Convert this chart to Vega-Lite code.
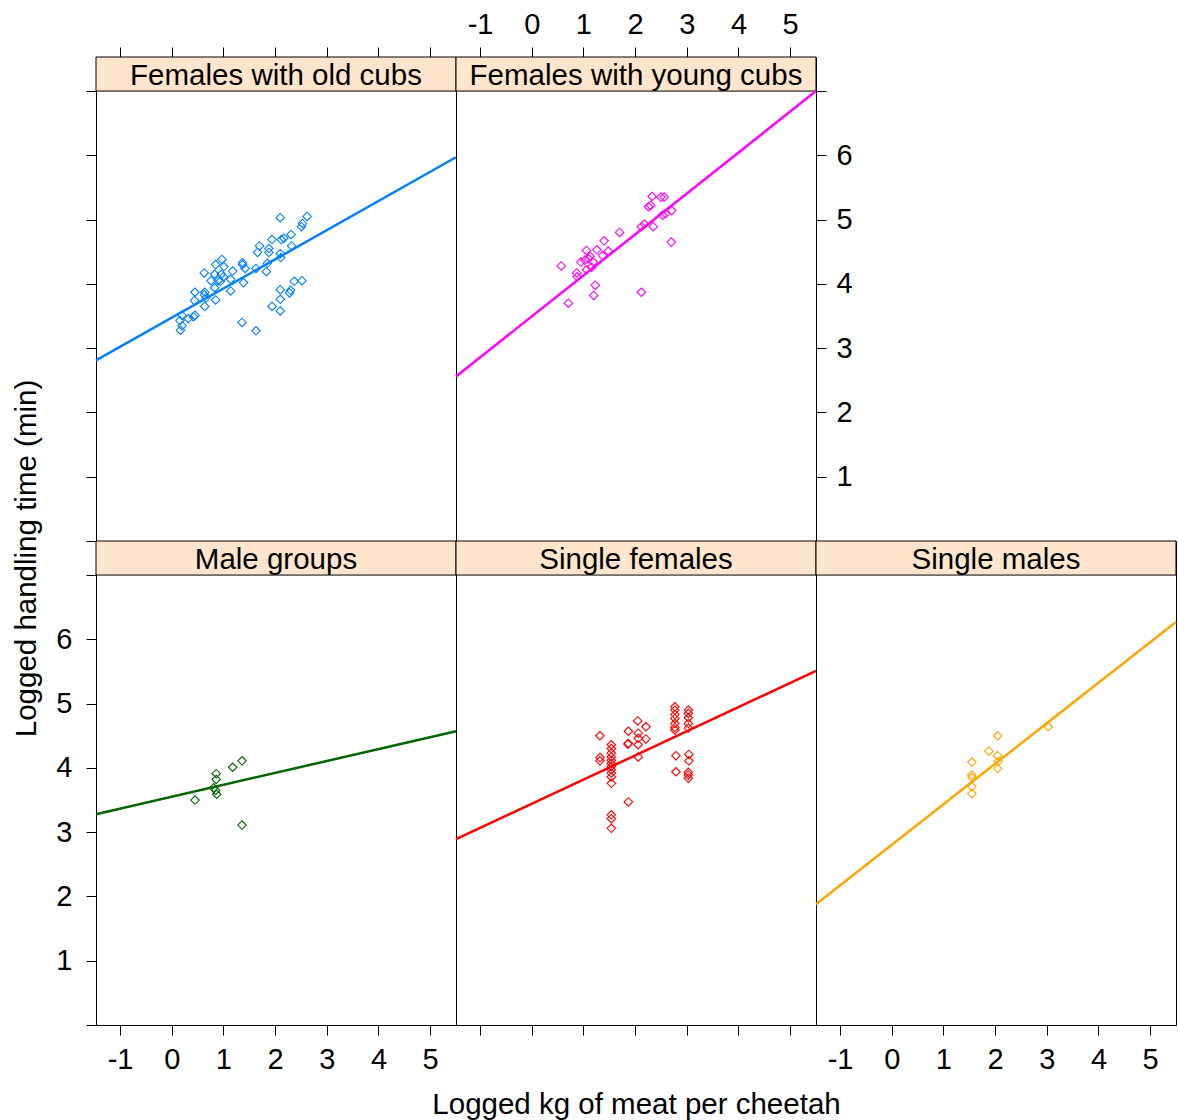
{
  "$schema": "https://vega.github.io/schema/vega-lite/v6.json",
  "background": "white",
  "padding": {"left": 11, "top": 9, "right": 0, "bottom": 0},
  "columns": 3,
  "spacing": 0,
  "bounds": "flush",
  "config": {
    "view": {"stroke": "black", "strokeWidth": 1},
    "axis": {"domain": false, "grid": false, "ticks": true, "tickSize": 10, "tickColor": "black", "tickWidth": 1,
      "labelFont": "Liberation Sans", "labelFontSize": 29, "labelColor": "black", "labelPadding": 10,
      "labelFlush": false, "labelOverlap": false,
      "titleFont": "Liberation Sans", "titleFontSize": 29.5, "titleFontWeight": "normal", "titleColor": "black"},
    "text": {"font": "Liberation Sans", "fontSize": 29.5, "color": "black", "dy": 2}
  },
  "datasets": {
    "strips": [
      {"group": "Females with old cubs"}, {"group": "Females with young cubs"}, {"group": "Male groups"},
      {"group": "Single females"}, {"group": "Single males"}
    ],
    "points": [
      {"group": "Females with old cubs", "x": 2.10, "y": 5.03}, {"group": "Females with old cubs", "x": 2.62, "y": 5.05},
      {"group": "Females with old cubs", "x": 2.53, "y": 4.94}, {"group": "Females with old cubs", "x": 2.51, "y": 4.89},
      {"group": "Females with old cubs", "x": 2.31, "y": 4.77}, {"group": "Females with old cubs", "x": 2.12, "y": 4.69},
      {"group": "Females with old cubs", "x": 2.17, "y": 4.71}, {"group": "Females with old cubs", "x": 1.94, "y": 4.69},
      {"group": "Females with old cubs", "x": 2.32, "y": 4.59}, {"group": "Females with old cubs", "x": 1.70, "y": 4.59},
      {"group": "Females with old cubs", "x": 1.66, "y": 4.49}, {"group": "Females with old cubs", "x": 1.88, "y": 4.55},
      {"group": "Females with old cubs", "x": 1.88, "y": 4.49}, {"group": "Females with old cubs", "x": 2.10, "y": 4.47},
      {"group": "Females with old cubs", "x": 2.11, "y": 4.41}, {"group": "Females with old cubs", "x": 1.85, "y": 4.32},
      {"group": "Females with old cubs", "x": 1.63, "y": 4.24}, {"group": "Females with old cubs", "x": 1.83, "y": 4.19},
      {"group": "Females with old cubs", "x": 1.37, "y": 4.33}, {"group": "Females with old cubs", "x": 1.37, "y": 4.30},
      {"group": "Females with old cubs", "x": 1.42, "y": 4.24}, {"group": "Females with old cubs", "x": 0.97, "y": 4.38},
      {"group": "Females with old cubs", "x": 0.85, "y": 4.30}, {"group": "Females with old cubs", "x": 1.01, "y": 4.27},
      {"group": "Females with old cubs", "x": 0.63, "y": 4.17}, {"group": "Females with old cubs", "x": 0.83, "y": 4.15},
      {"group": "Females with old cubs", "x": 0.96, "y": 4.15}, {"group": "Females with old cubs", "x": 1.00, "y": 4.11},
      {"group": "Females with old cubs", "x": 1.18, "y": 4.20}, {"group": "Females with old cubs", "x": 1.14, "y": 4.07},
      {"group": "Females with old cubs", "x": 0.76, "y": 4.05}, {"group": "Females with old cubs", "x": 0.90, "y": 4.05},
      {"group": "Females with old cubs", "x": 0.94, "y": 4.04}, {"group": "Females with old cubs", "x": 1.39, "y": 4.02},
      {"group": "Females with old cubs", "x": 1.14, "y": 3.89}, {"group": "Females with old cubs", "x": 0.45, "y": 3.87},
      {"group": "Females with old cubs", "x": 0.64, "y": 3.87}, {"group": "Females with old cubs", "x": 0.63, "y": 3.83},
      {"group": "Females with old cubs", "x": 0.66, "y": 3.78}, {"group": "Females with old cubs", "x": 0.83, "y": 3.94},
      {"group": "Females with old cubs", "x": 0.44, "y": 3.74}, {"group": "Females with old cubs", "x": 0.85, "y": 3.75},
      {"group": "Females with old cubs", "x": 0.64, "y": 3.65}, {"group": "Females with old cubs", "x": 0.45, "y": 3.51},
      {"group": "Females with old cubs", "x": 0.42, "y": 3.49}, {"group": "Females with old cubs", "x": 0.20, "y": 3.51},
      {"group": "Females with old cubs", "x": 0.16, "y": 3.43}, {"group": "Females with old cubs", "x": 0.20, "y": 3.35},
      {"group": "Females with old cubs", "x": 0.17, "y": 3.28}, {"group": "Females with old cubs", "x": 0.32, "y": 3.46},
      {"group": "Females with old cubs", "x": 2.37, "y": 4.04}, {"group": "Females with old cubs", "x": 2.52, "y": 4.05},
      {"group": "Females with old cubs", "x": 2.10, "y": 3.91}, {"group": "Females with old cubs", "x": 2.30, "y": 3.90},
      {"group": "Females with old cubs", "x": 2.28, "y": 3.86}, {"group": "Females with old cubs", "x": 2.10, "y": 3.76},
      {"group": "Females with old cubs", "x": 1.94, "y": 3.65}, {"group": "Females with old cubs", "x": 2.10, "y": 3.58},
      {"group": "Females with old cubs", "x": 1.36, "y": 3.40}, {"group": "Females with old cubs", "x": 1.63, "y": 3.27},

      {"group": "Females with young cubs", "x": 2.33, "y": 5.36}, {"group": "Females with young cubs", "x": 2.50, "y": 5.35},
      {"group": "Females with young cubs", "x": 2.56, "y": 5.35}, {"group": "Females with young cubs", "x": 2.30, "y": 5.22},
      {"group": "Females with young cubs", "x": 2.26, "y": 5.20}, {"group": "Females with young cubs", "x": 2.53, "y": 5.07},
      {"group": "Females with young cubs", "x": 2.59, "y": 5.09}, {"group": "Females with young cubs", "x": 2.71, "y": 5.14},
      {"group": "Females with young cubs", "x": 2.18, "y": 4.93}, {"group": "Females with young cubs", "x": 2.12, "y": 4.89},
      {"group": "Females with young cubs", "x": 2.35, "y": 4.89}, {"group": "Females with young cubs", "x": 2.70, "y": 4.65},
      {"group": "Females with young cubs", "x": 1.70, "y": 4.80}, {"group": "Females with young cubs", "x": 1.40, "y": 4.67},
      {"group": "Females with young cubs", "x": 1.06, "y": 4.52}, {"group": "Females with young cubs", "x": 1.26, "y": 4.53},
      {"group": "Females with young cubs", "x": 1.48, "y": 4.51}, {"group": "Females with young cubs", "x": 1.13, "y": 4.43},
      {"group": "Females with young cubs", "x": 1.10, "y": 4.39}, {"group": "Females with young cubs", "x": 0.95, "y": 4.34},
      {"group": "Females with young cubs", "x": 1.03, "y": 4.37}, {"group": "Females with young cubs", "x": 1.37, "y": 4.44},
      {"group": "Females with young cubs", "x": 1.19, "y": 4.34}, {"group": "Females with young cubs", "x": 0.57, "y": 4.28},
      {"group": "Females with young cubs", "x": 1.16, "y": 4.26}, {"group": "Females with young cubs", "x": 1.06, "y": 4.22},
      {"group": "Females with young cubs", "x": 0.87, "y": 4.17}, {"group": "Females with young cubs", "x": 0.88, "y": 4.11},
      {"group": "Females with young cubs", "x": 1.23, "y": 3.98}, {"group": "Females with young cubs", "x": 1.20, "y": 3.82},
      {"group": "Females with young cubs", "x": 2.12, "y": 3.87}, {"group": "Females with young cubs", "x": 0.71, "y": 3.70},

      {"group": "Male groups", "x": 1.36, "y": 4.11}, {"group": "Male groups", "x": 1.18, "y": 4.01},
      {"group": "Male groups", "x": 0.86, "y": 3.91}, {"group": "Male groups", "x": 0.86, "y": 3.82},
      {"group": "Male groups", "x": 0.81, "y": 3.69}, {"group": "Male groups", "x": 0.85, "y": 3.65},
      {"group": "Male groups", "x": 0.87, "y": 3.59}, {"group": "Male groups", "x": 0.45, "y": 3.50},
      {"group": "Male groups", "x": 1.36, "y": 3.11},

      {"group": "Single females", "x": 2.77, "y": 4.95}, {"group": "Single females", "x": 2.77, "y": 4.90},
      {"group": "Single females", "x": 2.77, "y": 4.83}, {"group": "Single females", "x": 2.77, "y": 4.77},
      {"group": "Single females", "x": 2.77, "y": 4.69}, {"group": "Single females", "x": 2.77, "y": 4.63},
      {"group": "Single females", "x": 2.77, "y": 4.59}, {"group": "Single females", "x": 3.03, "y": 4.90},
      {"group": "Single females", "x": 3.03, "y": 4.85}, {"group": "Single females", "x": 3.03, "y": 4.78},
      {"group": "Single females", "x": 3.03, "y": 4.69}, {"group": "Single females", "x": 3.03, "y": 4.62},
      {"group": "Single females", "x": 2.79, "y": 4.19}, {"group": "Single females", "x": 2.79, "y": 3.94},
      {"group": "Single females", "x": 3.04, "y": 4.21}, {"group": "Single females", "x": 3.04, "y": 4.11},
      {"group": "Single females", "x": 3.03, "y": 3.93}, {"group": "Single females", "x": 3.03, "y": 3.89},
      {"group": "Single females", "x": 3.03, "y": 3.84},
      {"group": "Single females", "x": 1.54, "y": 4.36}, {"group": "Single females", "x": 1.54, "y": 4.30},
      {"group": "Single females", "x": 1.54, "y": 4.23}, {"group": "Single females", "x": 1.54, "y": 4.17},
      {"group": "Single females", "x": 1.54, "y": 4.12}, {"group": "Single females", "x": 1.54, "y": 4.07},
      {"group": "Single females", "x": 1.54, "y": 4.02}, {"group": "Single females", "x": 1.54, "y": 3.97},
      {"group": "Single females", "x": 1.54, "y": 3.92}, {"group": "Single females", "x": 1.54, "y": 3.86},
      {"group": "Single females", "x": 1.54, "y": 3.76}, {"group": "Single females", "x": 1.54, "y": 3.27},
      {"group": "Single females", "x": 1.54, "y": 3.21}, {"group": "Single females", "x": 1.54, "y": 3.06},
      {"group": "Single females", "x": 1.32, "y": 4.50}, {"group": "Single females", "x": 1.32, "y": 4.16},
      {"group": "Single females", "x": 1.32, "y": 4.11}, {"group": "Single females", "x": 1.87, "y": 4.57},
      {"group": "Single females", "x": 1.87, "y": 4.38}, {"group": "Single females", "x": 1.86, "y": 4.37},
      {"group": "Single females", "x": 2.05, "y": 4.73}, {"group": "Single females", "x": 2.21, "y": 4.64},
      {"group": "Single females", "x": 2.06, "y": 4.54}, {"group": "Single females", "x": 2.06, "y": 4.46},
      {"group": "Single females", "x": 2.06, "y": 4.36}, {"group": "Single females", "x": 2.21, "y": 4.45},
      {"group": "Single females", "x": 2.06, "y": 4.17}, {"group": "Single females", "x": 1.87, "y": 3.47},

      {"group": "Single males", "x": 2.05, "y": 4.50}, {"group": "Single males", "x": 3.03, "y": 4.64},
      {"group": "Single males", "x": 1.88, "y": 4.26}, {"group": "Single males", "x": 2.05, "y": 4.19},
      {"group": "Single males", "x": 2.06, "y": 4.10}, {"group": "Single males", "x": 2.05, "y": 3.99},
      {"group": "Single males", "x": 1.55, "y": 4.09}, {"group": "Single males", "x": 1.55, "y": 3.89},
      {"group": "Single males", "x": 1.55, "y": 3.85}, {"group": "Single males", "x": 1.55, "y": 3.71},
      {"group": "Single males", "x": 1.55, "y": 3.60}
    ],
    "fits": [
      {"group": "Females with old cubs", "x": -1.465, "y": 2.81}, {"group": "Females with old cubs", "x": 5.5, "y": 5.97},
      {"group": "Females with young cubs", "x": -1.465, "y": 2.56}, {"group": "Females with young cubs", "x": 5.5, "y": 7.0},
      {"group": "Male groups", "x": -1.465, "y": 3.28}, {"group": "Male groups", "x": 5.5, "y": 4.57},
      {"group": "Single females", "x": -1.465, "y": 2.89}, {"group": "Single females", "x": 5.5, "y": 5.51},
      {"group": "Single males", "x": -1.465, "y": 1.88}, {"group": "Single males", "x": 5.5, "y": 6.27}
    ]
  },
  "concat": [
    {
      "width": 360, "height": 484,
      "layer": [
        {"data": {"name": "strips"}, "transform": [{"filter": "datum.group === 'Females with old cubs'"}],
          "mark": {"type": "rect", "fill": "#ffe5cc", "stroke": "black", "strokeWidth": 1},
          "encoding": {"x": {"datum": -1.465, "type": "quantitative", "scale": {"domain": [-1.465, 5.5], "nice": false, "zero": false},
            "axis": {"orient": "top", "values": [-1, 0, 1, 2, 3, 4, 5], "labels": false, "title": null}},
            "x2": {"datum": 5.5},
            "y": {"datum": 7, "type": "quantitative", "scale": {"domain": [0, 7.53], "nice": false, "zero": false},
            "axis": {"orient": "left", "values": [0, 1, 2, 3, 4, 5, 6, 7], "labels": false, "title": null}},
            "y2": {"datum": 7.53}}},
        {"data": {"name": "strips"}, "transform": [{"filter": "datum.group === 'Females with old cubs'"}],
          "mark": {"type": "text"},
          "encoding": {"x": {"datum": 2.0175, "type": "quantitative"}, "y": {"datum": 7.265, "type": "quantitative"}, "text": {"field": "group"}}},
        {"data": {"name": "fits"}, "transform": [{"filter": "datum.group === 'Females with old cubs'"}], "mark": {"type": "line", "color": "#0080ff", "strokeWidth": 2.5},
          "encoding": {"x": {"field": "x", "type": "quantitative", "title": null}, "y": {"field": "y", "type": "quantitative", "title": null}}},
        {"data": {"name": "points"}, "transform": [{"filter": "datum.group === 'Females with old cubs'"}], "mark": {"type": "point", "shape": "diamond", "filled": false, "color": "#0080ff", "size": 72, "strokeWidth": 1.1, "opacity": 1},
          "encoding": {"x": {"field": "x", "type": "quantitative", "title": null}, "y": {"field": "y", "type": "quantitative", "title": null}}}
      ]
    },
    {
      "width": 360, "height": 484,
      "layer": [
        {"data": {"name": "strips"}, "transform": [{"filter": "datum.group === 'Females with young cubs'"}],
          "mark": {"type": "rect", "fill": "#ffe5cc", "stroke": "black", "strokeWidth": 1},
          "encoding": {"x": {"datum": -1.465, "type": "quantitative", "scale": {"domain": [-1.465, 5.5], "nice": false, "zero": false},
            "axis": {"orient": "top", "values": [-1, 0, 1, 2, 3, 4, 5], "labelExpr": "'' + datum.value", "labelPadding": 8, "title": null}},
            "x2": {"datum": 5.5},
            "y": {"datum": 7, "type": "quantitative", "scale": {"domain": [0, 7.53], "nice": false, "zero": false},
            "axis": {"orient": "right", "values": [0, 1, 2, 3, 4, 5, 6, 7], "labelExpr": "datum.value >= 1 && datum.value <= 6 ? '' + datum.value : ''", "title": null}},
            "y2": {"datum": 7.53}}},
        {"data": {"name": "strips"}, "transform": [{"filter": "datum.group === 'Females with young cubs'"}],
          "mark": {"type": "text"},
          "encoding": {"x": {"datum": 2.0175, "type": "quantitative"}, "y": {"datum": 7.265, "type": "quantitative"}, "text": {"field": "group"}}},
        {"data": {"name": "fits"}, "transform": [{"filter": "datum.group === 'Females with young cubs'"}], "mark": {"type": "line", "color": "#ff00ff", "strokeWidth": 2.5},
          "encoding": {"x": {"field": "x", "type": "quantitative", "title": null}, "y": {"field": "y", "type": "quantitative", "title": null}}},
        {"data": {"name": "points"}, "transform": [{"filter": "datum.group === 'Females with young cubs'"}], "mark": {"type": "point", "shape": "diamond", "filled": false, "color": "#ff00ff", "size": 72, "strokeWidth": 1.1, "opacity": 1},
          "encoding": {"x": {"field": "x", "type": "quantitative", "title": null}, "y": {"field": "y", "type": "quantitative", "title": null}}}
      ]
    },
    {
      "width": 360, "height": 484,
      "data": {"name": "strips"},
      "transform": [{"filter": "datum.group === 'none'"}],
      "mark": "point",
      "encoding": {},
      "view": {"stroke": null}
    },
    {
      "width": 360, "height": 484,
      "layer": [
        {"data": {"name": "strips"}, "transform": [{"filter": "datum.group === 'Male groups'"}],
          "mark": {"type": "rect", "fill": "#ffe5cc", "stroke": "black", "strokeWidth": 1},
          "encoding": {"x": {"datum": -1.465, "type": "quantitative", "scale": {"domain": [-1.465, 5.5], "nice": false, "zero": false},
            "axis": {"orient": "bottom", "values": [-1, 0, 1, 2, 3, 4, 5], "labelExpr": "'' + datum.value", "title": null}},
            "x2": {"datum": 5.5},
            "y": {"datum": 7, "type": "quantitative", "scale": {"domain": [0, 7.53], "nice": false, "zero": false},
            "axis": {"orient": "left", "values": [0, 1, 2, 3, 4, 5, 6, 7], "labelExpr": "datum.value >= 1 && datum.value <= 6 ? '' + datum.value : ''", "labelPadding": 14, "title": "Logged handling time (min)", "titleY": 17, "titlePadding": 14}},
            "y2": {"datum": 7.53}}},
        {"data": {"name": "strips"}, "transform": [{"filter": "datum.group === 'Male groups'"}],
          "mark": {"type": "text"},
          "encoding": {"x": {"datum": 2.0175, "type": "quantitative"}, "y": {"datum": 7.265, "type": "quantitative"}, "text": {"field": "group"}}},
        {"data": {"name": "fits"}, "transform": [{"filter": "datum.group === 'Male groups'"}], "mark": {"type": "line", "color": "#006400", "strokeWidth": 2.5},
          "encoding": {"x": {"field": "x", "type": "quantitative", "title": null}, "y": {"field": "y", "type": "quantitative", "title": "Logged handling time (min)"}}},
        {"data": {"name": "points"}, "transform": [{"filter": "datum.group === 'Male groups'"}], "mark": {"type": "point", "shape": "diamond", "filled": false, "color": "#006400", "size": 72, "strokeWidth": 1.1, "opacity": 1},
          "encoding": {"x": {"field": "x", "type": "quantitative", "title": null}, "y": {"field": "y", "type": "quantitative", "title": "Logged handling time (min)"}}}
      ]
    },
    {
      "width": 360, "height": 484,
      "layer": [
        {"data": {"name": "strips"}, "transform": [{"filter": "datum.group === 'Single females'"}],
          "mark": {"type": "rect", "fill": "#ffe5cc", "stroke": "black", "strokeWidth": 1},
          "encoding": {"x": {"datum": -1.465, "type": "quantitative", "scale": {"domain": [-1.465, 5.5], "nice": false, "zero": false},
            "axis": {"orient": "bottom", "values": [-1, 0, 1, 2, 3, 4, 5], "labels": false, "title": "Logged kg of meat per cheetah", "titlePadding": 55}},
            "x2": {"datum": 5.5},
            "y": {"datum": 7, "type": "quantitative", "scale": {"domain": [0, 7.53], "nice": false, "zero": false}, "axis": null},
            "y2": {"datum": 7.53}}},
        {"data": {"name": "strips"}, "transform": [{"filter": "datum.group === 'Single females'"}],
          "mark": {"type": "text"},
          "encoding": {"x": {"datum": 2.0175, "type": "quantitative"}, "y": {"datum": 7.265, "type": "quantitative", "axis": null}, "text": {"field": "group"}}},
        {"data": {"name": "fits"}, "transform": [{"filter": "datum.group === 'Single females'"}], "mark": {"type": "line", "color": "#ff0000", "strokeWidth": 2.5},
          "encoding": {"x": {"field": "x", "type": "quantitative", "title": "Logged kg of meat per cheetah"}, "y": {"field": "y", "type": "quantitative", "axis": null}}},
        {"data": {"name": "points"}, "transform": [{"filter": "datum.group === 'Single females'"}], "mark": {"type": "point", "shape": "diamond", "filled": false, "color": "#ff0000", "size": 72, "strokeWidth": 1.1, "opacity": 1},
          "encoding": {"x": {"field": "x", "type": "quantitative", "title": "Logged kg of meat per cheetah"}, "y": {"field": "y", "type": "quantitative", "axis": null}}}
      ]
    },
    {
      "width": 360, "height": 484,
      "layer": [
        {"data": {"name": "strips"}, "transform": [{"filter": "datum.group === 'Single males'"}],
          "mark": {"type": "rect", "fill": "#ffe5cc", "stroke": "black", "strokeWidth": 1},
          "encoding": {"x": {"datum": -1.465, "type": "quantitative", "scale": {"domain": [-1.465, 5.5], "nice": false, "zero": false},
            "axis": {"orient": "bottom", "values": [-1, 0, 1, 2, 3, 4, 5], "labelExpr": "'' + datum.value", "title": null}},
            "x2": {"datum": 5.5},
            "y": {"datum": 7, "type": "quantitative", "scale": {"domain": [0, 7.53], "nice": false, "zero": false}, "axis": null},
            "y2": {"datum": 7.53}}},
        {"data": {"name": "strips"}, "transform": [{"filter": "datum.group === 'Single males'"}],
          "mark": {"type": "text"},
          "encoding": {"x": {"datum": 2.0175, "type": "quantitative"}, "y": {"datum": 7.265, "type": "quantitative", "axis": null}, "text": {"field": "group"}}},
        {"data": {"name": "fits"}, "transform": [{"filter": "datum.group === 'Single males'"}], "mark": {"type": "line", "color": "#ffa500", "strokeWidth": 2.5},
          "encoding": {"x": {"field": "x", "type": "quantitative", "title": null}, "y": {"field": "y", "type": "quantitative", "axis": null}}},
        {"data": {"name": "points"}, "transform": [{"filter": "datum.group === 'Single males'"}], "mark": {"type": "point", "shape": "diamond", "filled": false, "color": "#ffa500", "size": 72, "strokeWidth": 1.1, "opacity": 1},
          "encoding": {"x": {"field": "x", "type": "quantitative", "title": null}, "y": {"field": "y", "type": "quantitative", "axis": null}}}
      ]
    }
  ]
}
